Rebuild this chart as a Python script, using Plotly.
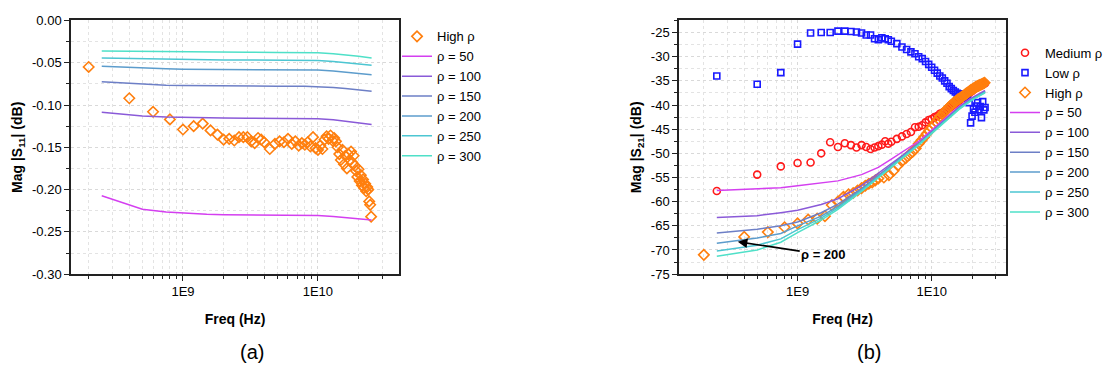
import plotly.graph_objects as go

# ---------------- data ----------------
# High-rho measured sweep (GHz)
HIGH_F_GHZ = [0.2, 0.4, 0.6, 0.8, 1.0, 1.2, 1.4, 1.6, 1.8, 2.0, 2.2, 2.4, 2.6, 2.8, 3.0, 3.2, 3.4, 3.6, 3.8, 4.0,
              4.4, 4.8, 5.2, 5.6, 6.0, 6.4, 6.8, 7.2, 7.6, 8.0,
              8.4, 8.8, 9.2, 9.6, 10.0, 10.4, 10.8, 11.2, 11.6, 12.0,
              12.4, 12.8, 13.2, 13.6, 14.0, 14.4, 14.8, 15.2, 15.6, 16.0,
              16.4, 16.8, 17.2, 17.6, 18.0, 18.4, 18.8, 19.2, 19.6, 20.0,
              20.4, 20.8, 21.2, 21.6, 22.0, 22.4, 22.8, 23.2, 23.6, 24.0,
              24.4, 24.8]
S11_HIGH = [-0.055, -0.092, -0.108, -0.117, -0.129, -0.125, -0.122, -0.130, -0.135, -0.141,
            -0.140, -0.142, -0.138, -0.138, -0.138, -0.143, -0.145, -0.139, -0.141, -0.144,
            -0.152, -0.146, -0.143, -0.144, -0.140, -0.146, -0.143, -0.148, -0.145, -0.147,
            -0.144, -0.149, -0.138, -0.151, -0.153, -0.148, -0.152, -0.141, -0.137, -0.140,
            -0.136, -0.142, -0.139, -0.143, -0.150, -0.158, -0.165, -0.153, -0.170, -0.160,
            -0.175, -0.158, -0.165, -0.155, -0.168, -0.160, -0.172, -0.178, -0.185, -0.176,
            -0.190, -0.183, -0.195, -0.188, -0.198, -0.193, -0.202, -0.197, -0.200, -0.214,
            -0.218, -0.232]
S21_HIGH = [-71.0, -67.3, -66.3, -65.3, -64.5, -63.7, -63.5, -63.0, -60.7, -60.0,
            -59.0, -58.5, -58.2, -57.7, -57.2, -56.7, -56.3, -56.0, -55.6, -55.2,
            -55.0, -54.5, -53.6, -52.5, -51.6, -51.0, -50.3, -49.7, -49.0, -48.0,
            -47.3, -46.6, -45.9, -45.3, -44.7, -44.1, -43.5, -42.9, -42.4, -41.9,
            -41.5, -41.1, -40.7, -40.3, -40.0, -39.7, -39.4, -39.2, -38.9, -38.7,
            -38.5, -38.3, -38.1, -37.9, -37.7, -37.5, -37.3, -37.1, -36.9, -36.8,
            -36.6, -36.5, -36.3, -36.2, -36.1, -36.0, -35.9, -35.8, -35.7, -35.6,
            -35.5, -35.4]

# Medium / Low rho measured sweep (GHz)
ML_F_GHZ = [0.25, 0.5, 0.75, 1.0, 1.25, 1.5, 1.75, 2.0, 2.25, 2.5, 2.75, 3.0, 3.25, 3.5, 3.75, 4.0, 4.25, 4.5, 4.75, 5.0,
            5.5, 6.0, 6.5, 7.0, 7.5, 8.0, 8.5, 9.0, 9.5, 10.0,
            10.5, 11.0, 11.5, 12.0, 12.5, 13.0, 13.5, 14.0, 14.5, 15.0,
            15.5, 16.0, 16.5, 17.0, 17.5, 18.0, 18.5, 19.0, 19.5, 20.0,
            20.5, 21.0, 21.5, 22.0, 22.5, 23.0, 23.5, 24.0, 24.5, 25.0]
S21_MED = [-57.8, -54.4, -52.7, -52.0, -51.9, -50.0, -47.7, -48.7, -47.9, -48.3,
           -48.8, -48.3, -48.7, -49.1, -48.8, -48.5, -48.2, -47.5, -48.0, -47.6,
           -47.0, -46.5, -46.0, -45.6, -44.6, -44.5, -44.2, -43.6, -43.1, -42.9,
           -42.5, -42.3, -41.8, -41.6, -41.3, -40.9, -40.6, -40.3, -40.0, -39.7,
           -39.4, -39.1, -38.8, -38.5, -38.3, -38.0, -37.8, -37.5, -37.3, -37.1,
           -36.8, -36.6, -36.4, -36.2, -36.0, -35.9, -35.8, -35.7, -35.6, -35.5]
S21_LOW = [-34.0, -35.7, -33.3, -27.4, -25.1, -25.0, -25.0, -24.7, -24.7, -24.8,
           -24.9, -25.1, -25.5, -25.5, -26.3, -26.5, -26.1, -26.3, -26.5, -26.8,
           -27.3, -28.0, -28.5, -29.0, -29.4, -30.0, -30.4, -31.0, -31.6, -32.2,
           -32.8, -33.4, -34.0, -34.4, -35.0, -35.5, -36.2, -36.6, -37.0, -37.3,
           -37.6, -37.7, -37.8, -37.9, -38.0, -38.3, -38.6, -39.5, -43.7, -42.3,
           -40.8, -41.5, -40.2, -39.5, -41.0, -40.3, -42.6, -39.3, -41.0, -40.5]

# simulated curves
RHO_LABELS = ["ρ = 50", "ρ = 100", "ρ = 150", "ρ = 200", "ρ = 250", "ρ = 300"]
SIM_L_F_GHZ = [0.25, 0.5, 0.75, 1, 1.5, 2, 3, 5, 8, 10, 13, 16, 20, 25]
S11_SIM = [
    [-0.2074, -0.2233, -0.2265, -0.2280, -0.2293, -0.2297, -0.2300, -0.2302, -0.2303, -0.2306, -0.2318, -0.2330, -0.2343, -0.2360],
    [-0.1085, -0.1130, -0.1142, -0.1148, -0.1152, -0.1154, -0.1156, -0.1158, -0.1160, -0.1163, -0.1175, -0.1190, -0.1208, -0.1230],
    [-0.0724, -0.0755, -0.0765, -0.0770, -0.0774, -0.0776, -0.0777, -0.0778, -0.0779, -0.0782, -0.0792, -0.0805, -0.0820, -0.0838],
    [-0.0543, -0.0565, -0.0572, -0.0576, -0.0579, -0.0581, -0.0582, -0.0583, -0.0584, -0.0587, -0.0597, -0.0610, -0.0625, -0.0642],
    [-0.0445, -0.0455, -0.0460, -0.0463, -0.0466, -0.0467, -0.0468, -0.0469, -0.0470, -0.0473, -0.0484, -0.0497, -0.0512, -0.0530],
    [-0.0362, -0.0368, -0.0371, -0.0373, -0.0375, -0.0376, -0.0377, -0.0378, -0.0379, -0.0382, -0.0393, -0.0406, -0.0422, -0.0445],
]
SIM_R_F_GHZ = [0.25, 0.5, 0.75, 1, 1.5, 2, 3, 4, 5, 6, 8, 10, 13, 16, 20, 25]
S21_SIM = [
    [-57.7, -57.4, -57.1, -56.7, -56.2, -55.7, -54.4, -52.9, -51.2, -49.8, -47.5, -45.2, -42.5, -40.3, -38.5, -37.0],
    [-63.3, -62.9, -62.3, -61.8, -60.6, -59.4, -56.7, -54.2, -52.2, -50.5, -47.9, -45.5, -42.7, -40.5, -38.6, -37.1],
    [-66.5, -65.7, -65.0, -64.2, -62.3, -60.5, -57.3, -54.6, -52.5, -50.8, -48.0, -45.6, -42.8, -40.6, -38.7, -37.2],
    [-68.6, -67.5, -66.6, -65.0, -63.0, -61.0, -57.5, -54.8, -52.6, -50.9, -48.1, -45.7, -42.9, -40.7, -38.8, -37.3],
    [-70.2, -69.0, -67.7, -65.8, -63.4, -61.3, -57.7, -54.9, -52.7, -51.0, -48.2, -45.8, -43.0, -40.8, -38.9, -37.4],
    [-71.3, -70.0, -68.4, -66.4, -63.8, -61.6, -57.9, -55.0, -52.8, -51.1, -48.3, -45.9, -43.1, -40.9, -39.0, -37.5],
]

S11_TICKS = [0.0, -0.05, -0.10, -0.15, -0.20, -0.25, -0.30]
S11_TICKTEXT = ["0.00", "-0.05", "-0.10", "-0.15", "-0.20", "-0.25", "-0.30"]
S21_TICKS = [-25, -30, -35, -40, -45, -50, -55, -60, -65, -70, -75]
S21_TICKTEXT = ["-25", "-30", "-35", "-40", "-45", "-50", "-55", "-60", "-65", "-70", "-75"]
X_TICKS = [1e9, 1e10]
X_TICKTEXT = ["1E9", "1E10"]

# ---------------- styling ----------------
W, H = 1116, 384
FONT = "Arial, Liberation Sans, sans-serif"
SIM_COLORS = ["#d43ff0", "#8a5ad8", "#6d7fc6", "#5c9ccc", "#4cc6d2", "#4fe0c8"]
ORANGE = "#ff7f0e"
RED = "#ff1a1a"
BLUE = "#1a1aff"


def hz(ghz_list):
    return [g * 1e9 for g in ghz_list]


fig = go.Figure()

# ---- left panel (S11) ----
fig.add_trace(go.Scatter(x=hz(HIGH_F_GHZ), y=S11_HIGH, mode="markers", name="High ρ",
                         marker=dict(symbol="diamond-open", size=8, color=ORANGE, line=dict(width=1.6, color=ORANGE)),
                         xaxis="x", yaxis="y", legend="legend"))
for lab, vals, col in zip(RHO_LABELS, S11_SIM, SIM_COLORS):
    fig.add_trace(go.Scatter(x=hz(SIM_L_F_GHZ), y=vals, mode="lines", name=lab,
                             line=dict(color=col, width=1.5), xaxis="x", yaxis="y", legend="legend"))

# ---- right panel (S21) ----
fig.add_trace(go.Scatter(x=hz(ML_F_GHZ), y=S21_MED, mode="markers", name="Medium ρ",
                         marker=dict(symbol="circle-open", size=7, color=RED, line=dict(width=1.6, color=RED)),
                         xaxis="x2", yaxis="y2", legend="legend2"))
fig.add_trace(go.Scatter(x=hz(ML_F_GHZ), y=S21_LOW, mode="markers", name="Low ρ",
                         marker=dict(symbol="square-open", size=6, color=BLUE, line=dict(width=1.6, color=BLUE)),
                         xaxis="x2", yaxis="y2", legend="legend2"))
fig.add_trace(go.Scatter(x=hz(HIGH_F_GHZ), y=S21_HIGH, mode="markers", name="High ρ",
                         marker=dict(symbol="diamond-open", size=8, color=ORANGE, line=dict(width=1.6, color=ORANGE)),
                         xaxis="x2", yaxis="y2", legend="legend2"))
for lab, vals, col in zip(RHO_LABELS, S21_SIM, SIM_COLORS):
    fig.add_trace(go.Scatter(x=hz(SIM_R_F_GHZ), y=vals, mode="lines", name=lab,
                             line=dict(color=col, width=1.5), xaxis="x2", yaxis="y2", legend="legend2"))

GRID = dict(showgrid=True, gridcolor="#d9d9d9", griddash="dot", gridwidth=1)
MINOR = dict(ticks="outside", ticklen=3, tickcolor="#222", showgrid=True, gridcolor="#e3e3e3", griddash="dot")


def xaxis(domain, rng, anchor):
    return dict(type="log", domain=domain, range=rng, anchor=anchor,
                tickmode="array", tickvals=X_TICKS, ticktext=X_TICKTEXT,
                showline=True, linecolor="#222", linewidth=1.5, mirror=True,
                ticks="outside", ticklen=5, tickcolor="#222", zeroline=False,
                tickfont=dict(size=13, color="black"),
                minor=dict(dtick="D1", **MINOR),
                title=dict(text="<b>Freq (Hz)</b>", font=dict(size=14, color="black"), standoff=16),
                **GRID)


def yaxis(domain, rng, anchor, tv, tt, minor_dtick, title):
    return dict(domain=domain, range=rng, anchor=anchor,
                tickmode="array", tickvals=tv, ticktext=tt,
                showline=True, linecolor="#222", linewidth=1.5, mirror=True,
                ticks="outside", ticklen=5, tickcolor="#222", zeroline=False,
                tickfont=dict(size=13, color="black"),
                minor=dict(tickmode="linear", tick0=0, dtick=minor_dtick, **MINOR),
                title=dict(text=title, font=dict(size=14, color="black"), standoff=6),
                **GRID)


YDOM = [1 - 278 / H, 1 - 14 / H]
fig.update_layout(
    width=W, height=H, margin=dict(l=0, r=0, t=0, b=0),
    paper_bgcolor="white", plot_bgcolor="white",
    font=dict(family=FONT, size=13, color="black"),
    xaxis=xaxis([71 / W, 399 / W], [8.170, 10.601], "y"),
    yaxis=yaxis(YDOM, [-0.30, 0.0], "x", S11_TICKS, S11_TICKTEXT, 0.025, "<b>Mag |S<sub>11</sub>| (dB)</b>"),
    xaxis2=xaxis([679 / W, 1006 / W], [8.116, 10.554], "y2"),
    yaxis2=yaxis(YDOM, [-75, -22.5], "x2", S21_TICKS, S21_TICKTEXT, 2.5, "<b>Mag |S<sub>21</sub>| (dB)</b>"),
    legend=dict(x=397 / W, y=1 - 15 / H, xanchor="left", yanchor="top", bgcolor="rgba(0,0,0,0)",
                font=dict(size=13, color="black"), tracegroupgap=0, itemwidth=30),
    legend2=dict(x=1005 / W, y=1 - 32 / H, xanchor="left", yanchor="top", bgcolor="rgba(0,0,0,0)",
                 font=dict(size=13, color="black"), tracegroupgap=0, itemwidth=30),
    showlegend=True,
    annotations=[
        dict(text="(a)", x=252 / W, y=1 - 359 / H, xref="paper", yref="paper", showarrow=False,
             font=dict(size=20, color="black"), xanchor="center", yanchor="middle"),
        dict(text="(b)", x=869 / W, y=1 - 359 / H, xref="paper", yref="paper", showarrow=False,
             font=dict(size=20, color="black"), xanchor="center", yanchor="middle"),
        dict(text="<b>ρ = 200</b>", x=8.554, y=-68.3, xref="x2", yref="y2",
             showarrow=True, ax=86, ay=13, arrowhead=2, arrowsize=1.2, arrowwidth=1.6, arrowcolor="black",
             font=dict(size=13, color="black")),
    ],
)

fig.write_html("out.html")
